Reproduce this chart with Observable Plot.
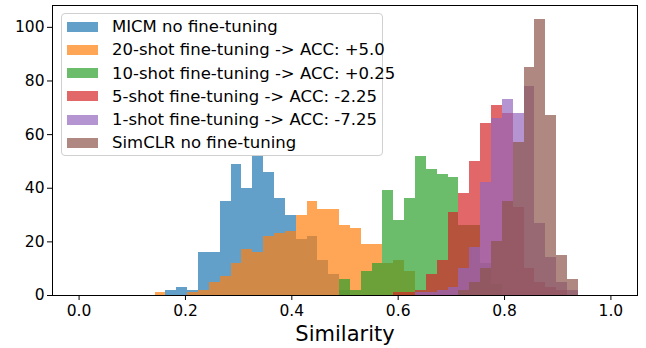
<!DOCTYPE html>
<html>
<head>
<meta charset="utf-8">
<script src="https://cdn.jsdelivr.net/npm/d3@7"></script>
<script src="https://cdn.jsdelivr.net/npm/@observablehq/plot@0.6"></script>
<style>
  body { margin: 0; background: white; }
  #wrap { position: relative; width: 646px; height: 348px; font-family: "DejaVu Sans", sans-serif; }
  #legend { position: absolute; left: 61px; top: 13px; width: 322px; height: 143px;
            border: 1px solid #d0d0d0; border-radius: 4px; background: rgba(255,255,255,0.8); box-sizing: border-box; }
  .row { position: absolute; left: 5px; height: 20px; display: flex; align-items: center; font-size: 16.5px; color: #000; white-space: nowrap; }
  .sw { width: 31px; height: 10px; margin-right: 14px; }
</style>
</head>
<body>
<div id="wrap"><div id="legend"></div></div>
<script>
// 49 equal bins over [0, 1]
const nBins = 49;
const seriesNames = [
  "MICM no fine-tuning",
  "20-shot fine-tuning -> ACC: +5.0",
  "10-shot fine-tuning -> ACC: +0.25",
  "5-shot fine-tuning -> ACC: -2.25",
  "1-shot fine-tuning -> ACC: -7.25",
  "SimCLR no fine-tuning"
];
const seriesColors = ["#1f77b4", "#ff7f0e", "#2ca02c", "#d62728", "#9467bd", "#8c564b"];

// counts per bin (bin index 0..48)
const micm   = [0,0,0,0,0,0,0,0,2,3,2,16,16,35,49,40,52,46,36,30,21,22,13,8,2,0,0,0,0,0,0,0,0,0,0,0,0,0,0,0,0,0,0,0,0,0,0,0,0];
const shot20 = [0,0,0,0,0,0,0,1,0,0,1,2,5,7,12,17,16,22,23,24,30,35,32,32,26,25,19,19,12,13,9,0,0,0,0,0,0,0,0,0,0,0,0,0,0,0,0,0,0];
const shot10 = [0,0,0,0,0,0,0,0,0,0,0,0,0,0,0,0,0,0,0,0,0,0,0,0,6,2,9,12,39,28,36,52,47,45,44,26,26,12,4,0,0,0,0,0,0,0,0,0,0];
const shot5  = [0,0,0,0,0,0,0,0,0,0,0,0,0,0,0,0,0,0,0,0,0,0,0,0,0,0,0,0,0,1,1,2,8,13,31,38,50,64,71,68,33,10,5,3,2,0,0,0,0];
const shot1  = [0,0,0,0,0,0,0,0,0,0,0,0,0,0,0,0,0,0,0,0,0,0,0,0,0,0,0,0,0,0,0,1,1,2,3,10,18,42,66,73,68,78,27,14,5,2,0,0,0];
const simclr = [0,0,0,0,0,0,0,0,0,0,0,0,0,0,0,0,0,0,0,0,0,0,0,0,0,0,0,0,0,0,0,0,0,0,0,2,5,10,20,35,57,85,103,67,15,6,0,0,0];

const xTicks = [0, 0.2, 0.4, 0.6, 0.8, 1.0];
const yTicks = [0, 20, 40, 60, 80, 100];

const allCounts = [micm, shot20, shot10, shot5, shot1, simclr];
const rows = [];
allCounts.forEach((arr, s) => {
  arr.forEach((c, k) => {
    if (c > 0) rows.push({series: seriesNames[s], x1: k / nBins, x2: (k + 1) / nBins, y1: 0, y2: c});
  });
});

const yMax = d3.max(allCounts.flat()) * 1.05;

const chart = Plot.plot({
  width: 646,
  height: 348,
  marginLeft: 52,
  marginRight: 9,
  marginTop: 5,
  marginBottom: 53,
  style: {fontFamily: "DejaVu Sans, sans-serif", fontSize: "15.5px", color: "black", background: "white"},
  x: {domain: [-0.05, 1.05]},
  y: {domain: [0, yMax]},
  color: {domain: seriesNames, range: seriesColors},
  marks: [
    Plot.rect(rows, {x1: "x1", x2: "x2", y1: "y1", y2: "y2", fill: "series", fillOpacity: 0.7, inset: 0, shapeRendering: "crispEdges"}),
    Plot.frame({stroke: "black", strokeWidth: 1}),
    Plot.axisX({ticks: xTicks, tickFormat: d => d.toFixed(1), tickSize: 5, tickPadding: 4, label: null, fontSize: 15.5, stroke: "black"}),
    Plot.axisY({ticks: yTicks, tickSize: 5, tickPadding: 3, label: null, fontSize: 15.5, stroke: "black"}),
    Plot.text(["Similarity"], {frameAnchor: "bottom", dy: 39, fontSize: 21, lineAnchor: "middle", fill: "black"})
  ]
});
document.getElementById("wrap").prepend(chart);

const legend = document.getElementById("legend");
const rowTops = [2.5, 25.8, 49, 72.4, 95.6, 118.8];
seriesNames.forEach((name, i) => {
  const r = document.createElement("div");
  r.className = "row";
  r.style.top = rowTops[i] + "px";
  const sw = document.createElement("div");
  sw.className = "sw";
  sw.style.background = seriesColors[i];
  sw.style.opacity = 0.7;
  const t = document.createElement("span");
  t.textContent = name;
  r.appendChild(sw);
  r.appendChild(t);
  legend.appendChild(r);
});
</script>
</body>
</html>
